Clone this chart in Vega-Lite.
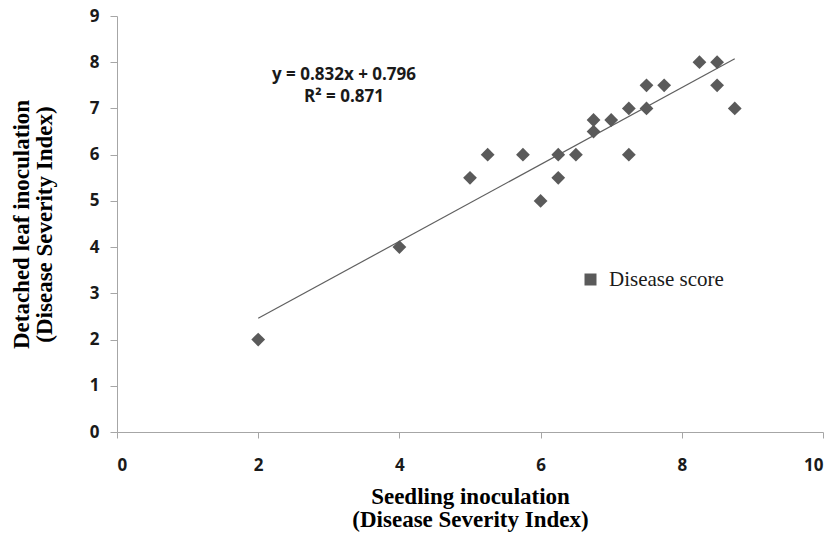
{
  "$schema": "https://vega.github.io/schema/vega-lite/v6.json",
  "width": 706,
  "height": 416,
  "autosize": "none",
  "padding": {"left": 117, "top": 16, "right": 14, "bottom": 114},
  "background": "white",
  "config": {"view": {"stroke": null}},
  "datasets": {
    "points": [
      {"seedling": 2, "leaf": 2},
      {"seedling": 4, "leaf": 4},
      {"seedling": 5, "leaf": 5.5},
      {"seedling": 5.25, "leaf": 6},
      {"seedling": 5.75, "leaf": 6},
      {"seedling": 6, "leaf": 5},
      {"seedling": 6.25, "leaf": 5.5},
      {"seedling": 6.25, "leaf": 6},
      {"seedling": 6.5, "leaf": 6},
      {"seedling": 6.75, "leaf": 6.5},
      {"seedling": 6.75, "leaf": 6.75},
      {"seedling": 7, "leaf": 6.75},
      {"seedling": 7.25, "leaf": 7},
      {"seedling": 7.25, "leaf": 6},
      {"seedling": 7.5, "leaf": 7.5},
      {"seedling": 7.5, "leaf": 7},
      {"seedling": 7.75, "leaf": 7.5},
      {"seedling": 8.25, "leaf": 8},
      {"seedling": 8.5, "leaf": 8},
      {"seedling": 8.5, "leaf": 7.5},
      {"seedling": 8.75, "leaf": 7}
    ],
    "trend": [
      {"seedling": 2, "leaf": 2.46},
      {"seedling": 8.75, "leaf": 8.076}
    ],
    "labels": [
      {"seedling": 3.215, "leaf": 7.724, "text": "y = 0.832x + 0.796"},
      {"seedling": 3.215, "leaf": 7.248, "text": "R² = 0.871"}
    ]
  },
  "encoding": {
    "x": {
      "field": "seedling", "type": "quantitative",
      "scale": {"domain": [0, 10], "nice": false, "zero": true},
      "axis": {
        "values": [0, 2, 4, 6, 8, 10],
        "title": ["Seedling inoculation", "(Disease Severity Index)"],
        "grid": false,
        "domainColor": "#a6a6a6", "tickColor": "#a6a6a6", "tickSize": 6,
        "labelFont": "Open Sans", "labelFontWeight": "bold", "labelFontSize": 17, "labelColor": "#1a1a1a",
        "labelPadding": 19,
        "titleFont": "Liberation Serif", "titleFontWeight": "bold", "titleFontSize": 23, "titleColor": "#000000",
        "titleLineHeight": 23, "titlePadding": 12
      }
    },
    "y": {
      "field": "leaf", "type": "quantitative",
      "scale": {"domain": [0, 9], "nice": false},
      "axis": {
        "values": [0, 1, 2, 3, 4, 5, 6, 7, 8, 9],
        "title": ["Detached leaf inoculation", "(Disease Severity Index)"],
        "grid": false,
        "domainColor": "#a6a6a6", "tickColor": "#a6a6a6", "tickSize": 7,
        "labelFont": "Open Sans", "labelFontWeight": "bold", "labelFontSize": 17, "labelColor": "#1a1a1a",
        "labelPadding": 11,
        "titleFont": "Liberation Serif", "titleFontWeight": "bold", "titleFontSize": 23, "titleColor": "#000000",
        "titleLineHeight": 23, "titlePadding": 33
      }
    }
  },
  "layer": [
    {
      "data": {"name": "trend"},
      "mark": {"type": "line", "color": "#606060", "strokeWidth": 1.2}
    },
    {
      "data": {"name": "points"},
      "mark": {"type": "point", "shape": "diamond", "filled": true, "size": 190, "opacity": 1},
      "encoding": {
        "color": {
          "datum": "Disease score",
          "type": "nominal",
          "scale": {"range": ["#5a5a5a"]},
          "legend": {
            "title": null,
            "orient": "none",
            "legendX": 463,
            "legendY": 253,
            "symbolType": "square",
            "symbolSize": 144,
            "labelFont": "Liberation Serif",
            "labelFontSize": 21,
            "labelColor": "#1a1a1a",
            "labelOffset": 8
          }
        }
      }
    },
    {
      "data": {"name": "labels"},
      "mark": {"type": "text", "font": "Open Sans", "fontWeight": "bold", "fontSize": 17, "color": "#1a1a1a", "align": "center", "baseline": "middle"},
      "encoding": {"text": {"field": "text", "type": "nominal"}}
    }
  ]
}
